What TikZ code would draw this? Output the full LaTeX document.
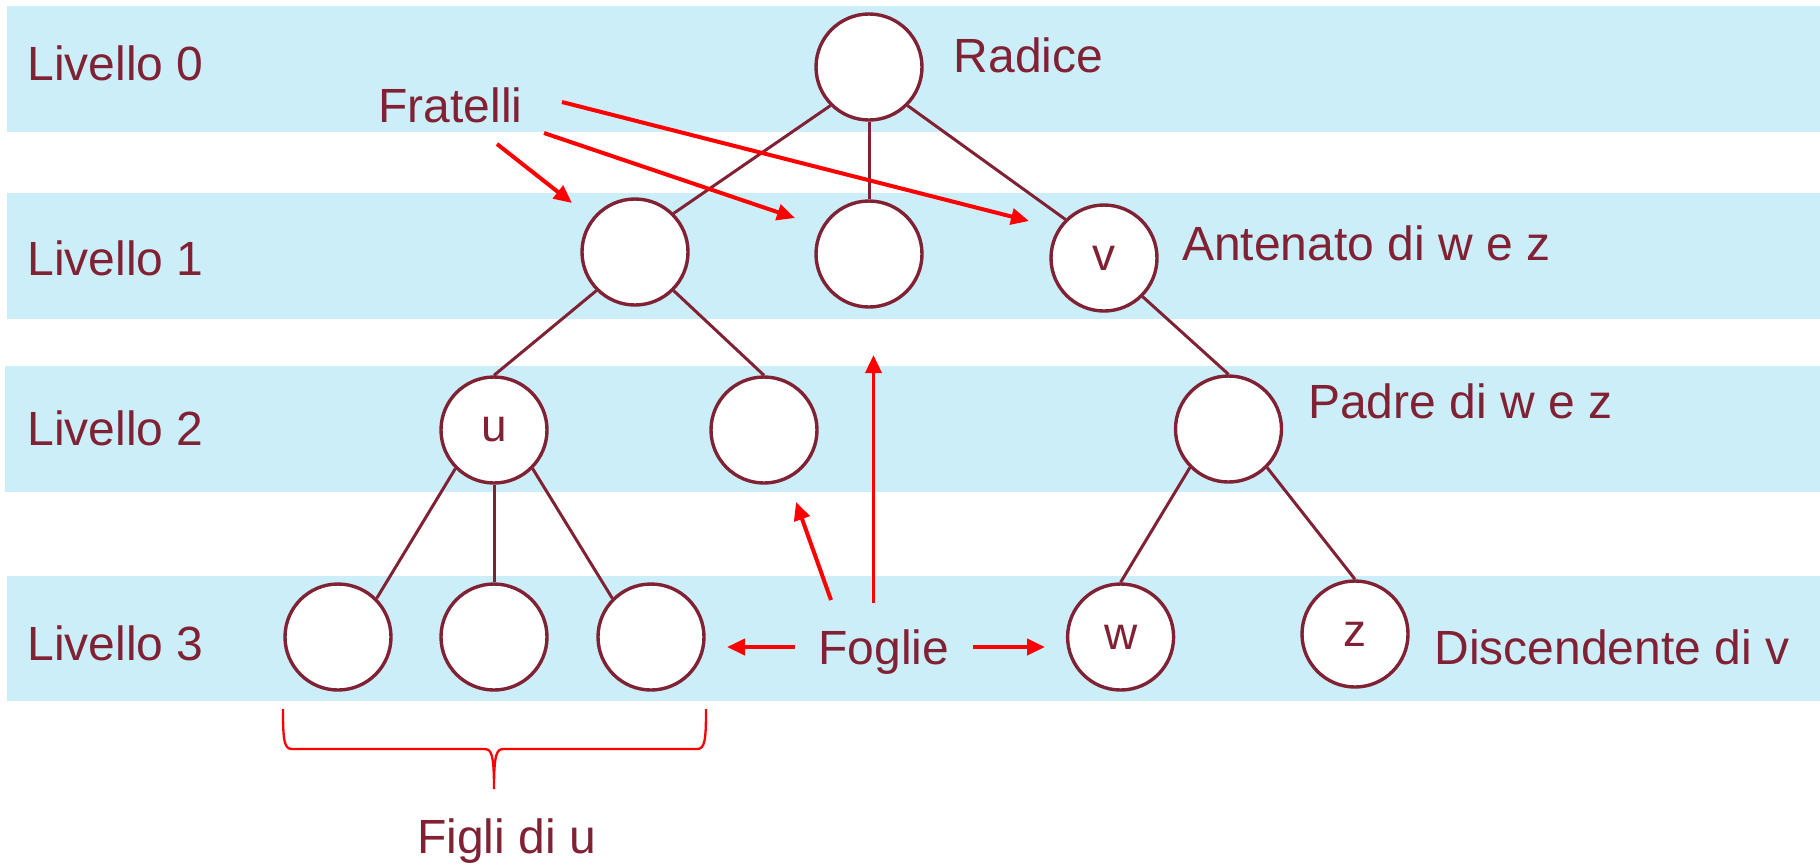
\documentclass[tikz,border=0pt]{standalone}
\usepackage{fontspec}
\setmainfont{Liberation Sans}
\usetikzlibrary{arrows.meta}
\definecolor{band}{RGB}{204,238,249}
\definecolor{maroon}{RGB}{128,34,52}
\definecolor{arrowred}{RGB}{255,0,0}
\begin{document}
\begin{tikzpicture}[x=0.5pt,y=-0.5pt,
  vertex/.style={circle,draw=maroon,line width=1.7pt,fill=white,
    minimum size=53pt,inner sep=0pt,text=maroon,
    font=\fontsize{23}{26}\selectfont},
  levtext/.style={anchor=base west,inner sep=0pt,text=maroon,
    font=\fontsize{24}{28}\selectfont},
  branch/.style={draw=maroon,line width=1.5pt},
  pointer/.style={draw=arrowred,line width=2pt,
    -{Triangle[length=9pt,width=8pt]}}]
\useasboundingbox (0,0) rectangle (1820,864);

% level bands
\fill[band] (7,6) rectangle (1820,132);
\fill[band] (7,193) rectangle (1820,319);
\fill[band] (5,366) rectangle (1820,492);
\fill[band] (7,576) rectangle (1820,701);

% level labels
\node[levtext] (liv0) at (27,80) {Livello 0};
\node[levtext] (liv1) at (27,275) {Livello 1};
\node[levtext] (liv2) at (27,445) {Livello 2};
\node[levtext] (liv3) at (27,660) {Livello 3};

% node centres
\coordinate (p-root) at (869,67);
\coordinate (p-l1a) at (635,252);
\coordinate (p-l1b) at (869,254);
\coordinate (p-v) at (1104,258);
\coordinate (p-u) at (494,430);
\coordinate (p-l2b) at (764,430);
\coordinate (p-pad) at (1228.5,429);
\coordinate (p-c1) at (338,637);
\coordinate (p-c2) at (494,637);
\coordinate (p-c3) at (651,637);
\coordinate (p-w) at (1120.6,637);
\coordinate (p-z) at (1355,634);

% tree nodes
\node[vertex] (root) at (p-root) {};
\node[vertex] (l1a) at (p-l1a) {};
\node[vertex] (l1b) at (p-l1b) {};
\node[vertex] (v) at (p-v) {v};
\node[vertex] (u) at (p-u) {u};
\node[vertex] (l2b) at (p-l2b) {};
\node[vertex] (pad) at (p-pad) {};
\node[vertex] (c1) at (p-c1) {};
\node[vertex] (c2) at (p-c2) {};
\node[vertex] (c3) at (p-c3) {};
\node[vertex] (w) at (p-w) {w};
\node[vertex] (z) at (p-z) {z};

% tree edges between connection points
\draw[branch] (root.south west) -- (l1a.north east);
\draw[branch] (root.south) -- (l1b.north);
\draw[branch] (root.south east) -- (v.north west);
\draw[branch] (l1a.south west) -- (u.north);
\draw[branch] (l1a.south east) -- (l2b.north);
\draw[branch] (v.south east) -- (pad.north);
\draw[branch] (u.south west) -- (c1.north east);
\draw[branch] (u.south) -- (c2.north);
\draw[branch] (u.south east) -- (c3.north west);
\draw[branch] (pad.south west) -- (w.north);
\draw[branch] (pad.south east) -- (z.north);

% annotations
\node[levtext] (fratelli) at (378,122) {Fratelli};
\node[levtext] (radice) at (953.5,72) {Radice};
\node[levtext] (antenato) at (1181.6,260) {Antenato di w e z};
\node[levtext] (padre) at (1307.6,418) {Padre di w e z};
\node[levtext] (discend) at (1434,664) {Discendente di v};
\node[levtext] (foglie) at (818,664) {Foglie};
\node[levtext] (figli) at (416.7,853) {Figli di u};

% annotation arrows
\coordinate (fr1s) at (497,144);  \coordinate (fr1e) at (572,203);
\coordinate (fr2s) at (544,133);  \coordinate (fr2e) at (795,218);
\coordinate (fr3s) at (562,102);  \coordinate (fr3e) at (1029,221);
\coordinate (fo1s) at (795,647);  \coordinate (fo1e) at (727,647);
\coordinate (fo2s) at (973,647);  \coordinate (fo2e) at (1045,647);
\coordinate (fo3s) at (831,600);  \coordinate (fo3e) at (796,502);
\coordinate (fo4s) at (873.5,603); \coordinate (fo4e) at (873.5,355);
\draw[pointer] (fr1s) -- (fr1e);
\draw[pointer] (fr2s) -- (fr2e);
\draw[pointer] (fr3s) -- (fr3e);
\draw[pointer] (fo1s) -- (fo1e);
\draw[pointer] (fo2s) -- (fo2e);
\draw[pointer] (fo3s) -- (fo3e);
\draw[pointer,line width=1.7pt] (fo4s) -- (fo4e);

% brace under the children of u
\draw[draw=arrowred,line width=1.15pt]
  (283,709) .. controls (283,740) and (284,749) .. (292,749)
  -- (484,749) .. controls (491,749) and (494,752) .. (494,789)
  .. controls (494,752) and (497,749) .. (504,749)
  -- (697,749) .. controls (705,749) and (706,740) .. (706,709);
\end{tikzpicture}
\end{document}
